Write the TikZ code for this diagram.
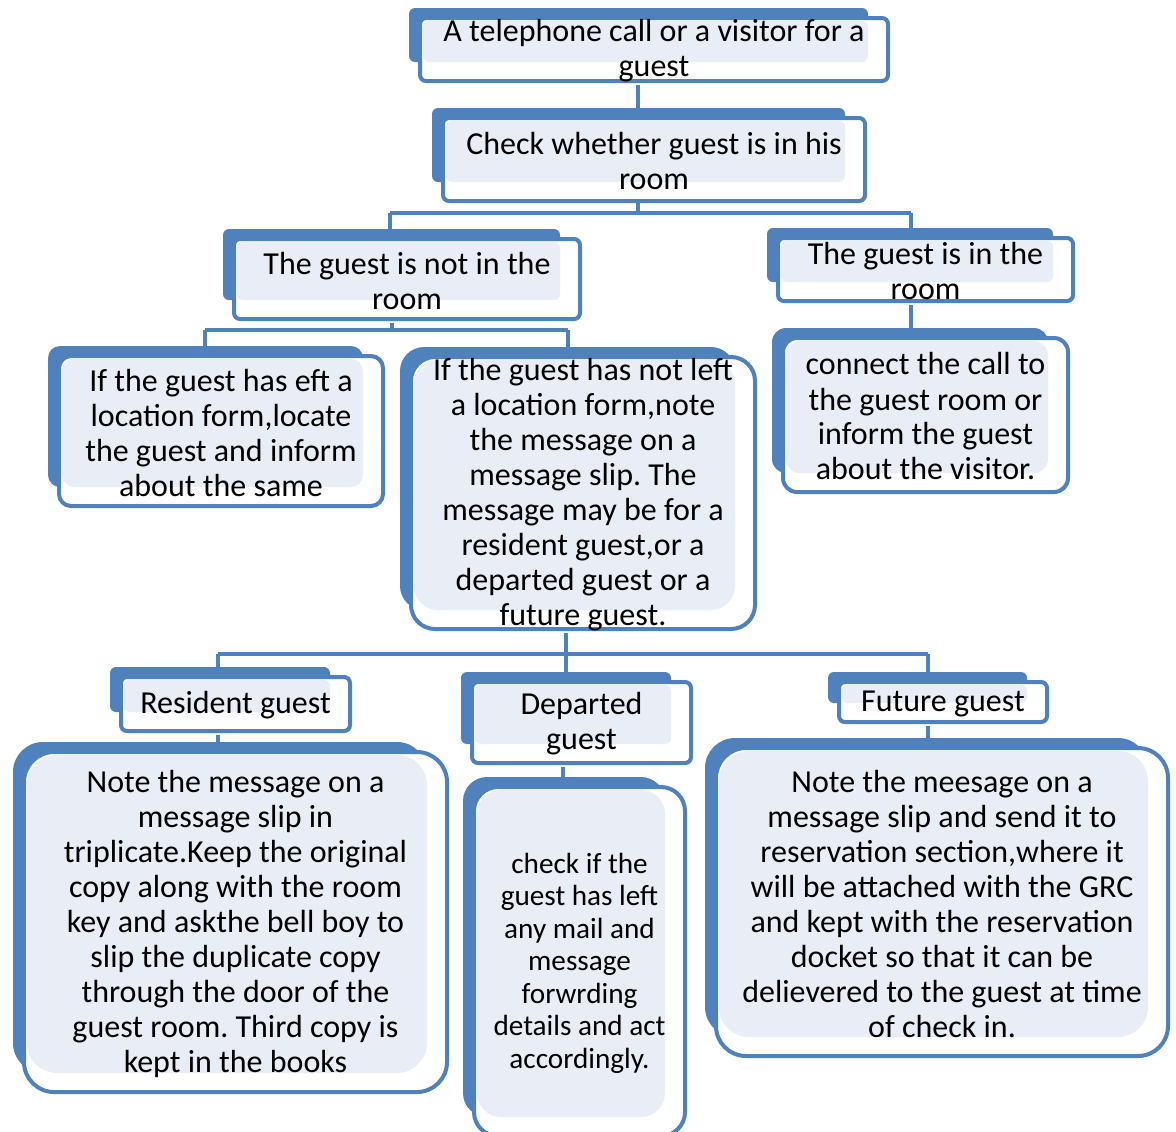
\documentclass[tikz,border=0pt]{standalone}
\usepackage{fontspec}
\setmainfont{Carlito}
\frenchspacing
\definecolor{gblue}{RGB}{79,129,189}
\definecolor{glight}{RGB}{233,238,246}
\tikzset{
  conn/.style={draw=gblue, line width=2pt},
  gtext/.style={inner sep=0pt, align=center, text=black},
}
\newcommand\bigfont{\fontsize{16}{17.5}\selectfont}
\newcommand\smallfont{\fontsize{14.6}{16.25}\selectfont}
% #1 name, #2 bL, #3 bT, #4 bR, #5 bB, #6 radius, #7 font, #8 text
\newcommand\gbox[8]{%
  \fill[gblue, rounded corners=#6] (#2,#3) rectangle (#4,#5);
  \filldraw[draw=gblue, fill=white, line width=2pt, rounded corners=#6] ({#2+11},{#3+10}) rectangle ({#4+20},{#5+19});
  \fill[glight, rounded corners=#6] ({#2+14},{#3+13}) rectangle (#4,#5);
  \node[gtext, font=#7, minimum width={(#4-#2+9)*0.5pt}, minimum height={(#5-#3+9)*0.5pt}] (#1) at ({(#2+#4)/2+15.5},{(#3+#5)/2+16}) {#8};
}
\begin{document}
\begin{tikzpicture}[x=0.5pt,y=-0.5pt]
\clip (0,0) rectangle (1176,1131);
% bus coordinates
\coordinate (x638) at (638,0);
\coordinate (h1M) at (638,213);
\coordinate (h1L) at (390,213);
\coordinate (h1R) at (911,213);
\coordinate (h2M) at (392,330);
\coordinate (h2L) at (205,330);
\coordinate (h2R) at (568,330);
\coordinate (h3M) at (566,654);
\coordinate (h3L) at (218,654);
\coordinate (h3R) at (928,654);
\coordinate (x563) at (563,0);
\gbox{b1}{409}{8}{868}{62}{3pt}{\bigfont}{A telephone call or a visitor for a\\guest}
\gbox{b2}{432}{108}{845}{182}{3pt}{\bigfont}{Check whether guest is in his\\room}
\gbox{b3}{223}{229}{560}{300}{3pt}{\bigfont}{The guest is not in the\\room}
\gbox{b4}{767}{228}{1053}{282}{3pt}{\bigfont}{The guest is in the\\room}
\gbox{b5}{772}{328}{1048}{473}{7pt}{\bigfont}{connect the call to\\the guest room or\\inform the guest\\about the visitor.}
\gbox{b6}{48}{346}{363}{487}{6pt}{\bigfont}{If the guest has eft a\\location form,locate\\the guest and inform\\about the same}
\gbox{b7}{400}{347}{735}{610}{12pt}{\bigfont}{If the guest has not left\\a location form,note\\the message on a\\message slip. The\\message may be for a\\resident guest,or a\\departed guest or a\\future guest.}
\gbox{b8}{110}{667}{330}{712}{3pt}{\bigfont}{Resident guest}
\gbox{b9}{13}{742}{427}{1073}{15pt}{\bigfont}{Note the message on a\\message slip in\\triplicate.Keep the original\\copy along with the room\\key and askthe bell boy to\\slip the duplicate copy\\through the door of the\\guest room. Third copy is\\kept in the books}
\gbox{b10}{461}{672}{671}{744}{3pt}{\bigfont}{Departed\\guest}
\gbox{b11}{463}{777}{665}{1117}{12pt}{\smallfont}{check if the\\guest has left\\any mail and\\message\\forwrding\\details and act\\accordingly.}
\gbox{b12}{828}{672}{1027}{703}{3pt}{\bigfont}{Future guest}
\gbox{b13}{705}{738}{1148}{1037}{15pt}{\bigfont}{Note the meesage on a\\message slip and send it to\\reservation section,where it\\will be attached with the GRC\\and kept with the reservation\\docket so that it can be\\delievered to the guest at time\\of check in.}
% connectors (in the gaps between boxes)
\draw[conn] ([yshift=-1pt]b1.south -| x638) -- ([yshift=0.5pt]b2.north -| x638);
\draw[conn] (b2.south -| h1M) -- (h1M);
\draw[conn] (h1L) -- (h1R);
\draw[conn] (h1L) -- ([yshift=0.5pt]b3.north -| h1L);
\draw[conn] (h1R) -- ([yshift=0.5pt]b4.north -| h1R);
\draw[conn] ([yshift=-1pt]b3.south -| h2M) -- (h2M);
\draw[conn] (h2L) -- (h2R);
\draw[conn] (h2L) -- ([yshift=0.5pt]b6.north -| h2L);
\draw[conn] (h2R) -- ([yshift=0.5pt]b7.north -| h2R);
\draw[conn] ([yshift=-1pt]b4.south -| h1R) -- ([yshift=0.5pt]b5.north -| h1R);
\draw[conn] ([yshift=-1pt]b7.south -| h3M) -- (h3M);
\draw[conn] (h3L) -- (h3R);
\draw[conn] (h3L) -- ([yshift=0.5pt]b8.north -| h3L);
\draw[conn] (h3M) -- ([yshift=0.5pt]b10.north -| h3M);
\draw[conn] (h3R) -- ([yshift=0.5pt]b12.north -| h3R);
\draw[conn] ([yshift=-1pt]b8.south -| h3L) -- ([yshift=0.5pt]b9.north -| h3L);
\draw[conn] ([yshift=-1pt]b10.south -| x563) -- ([yshift=0.5pt]b11.north -| x563);
\draw[conn] ([yshift=-1pt]b12.south -| h3R) -- ([yshift=0.5pt]b13.north -| h3R);
\end{tikzpicture}
\end{document}
